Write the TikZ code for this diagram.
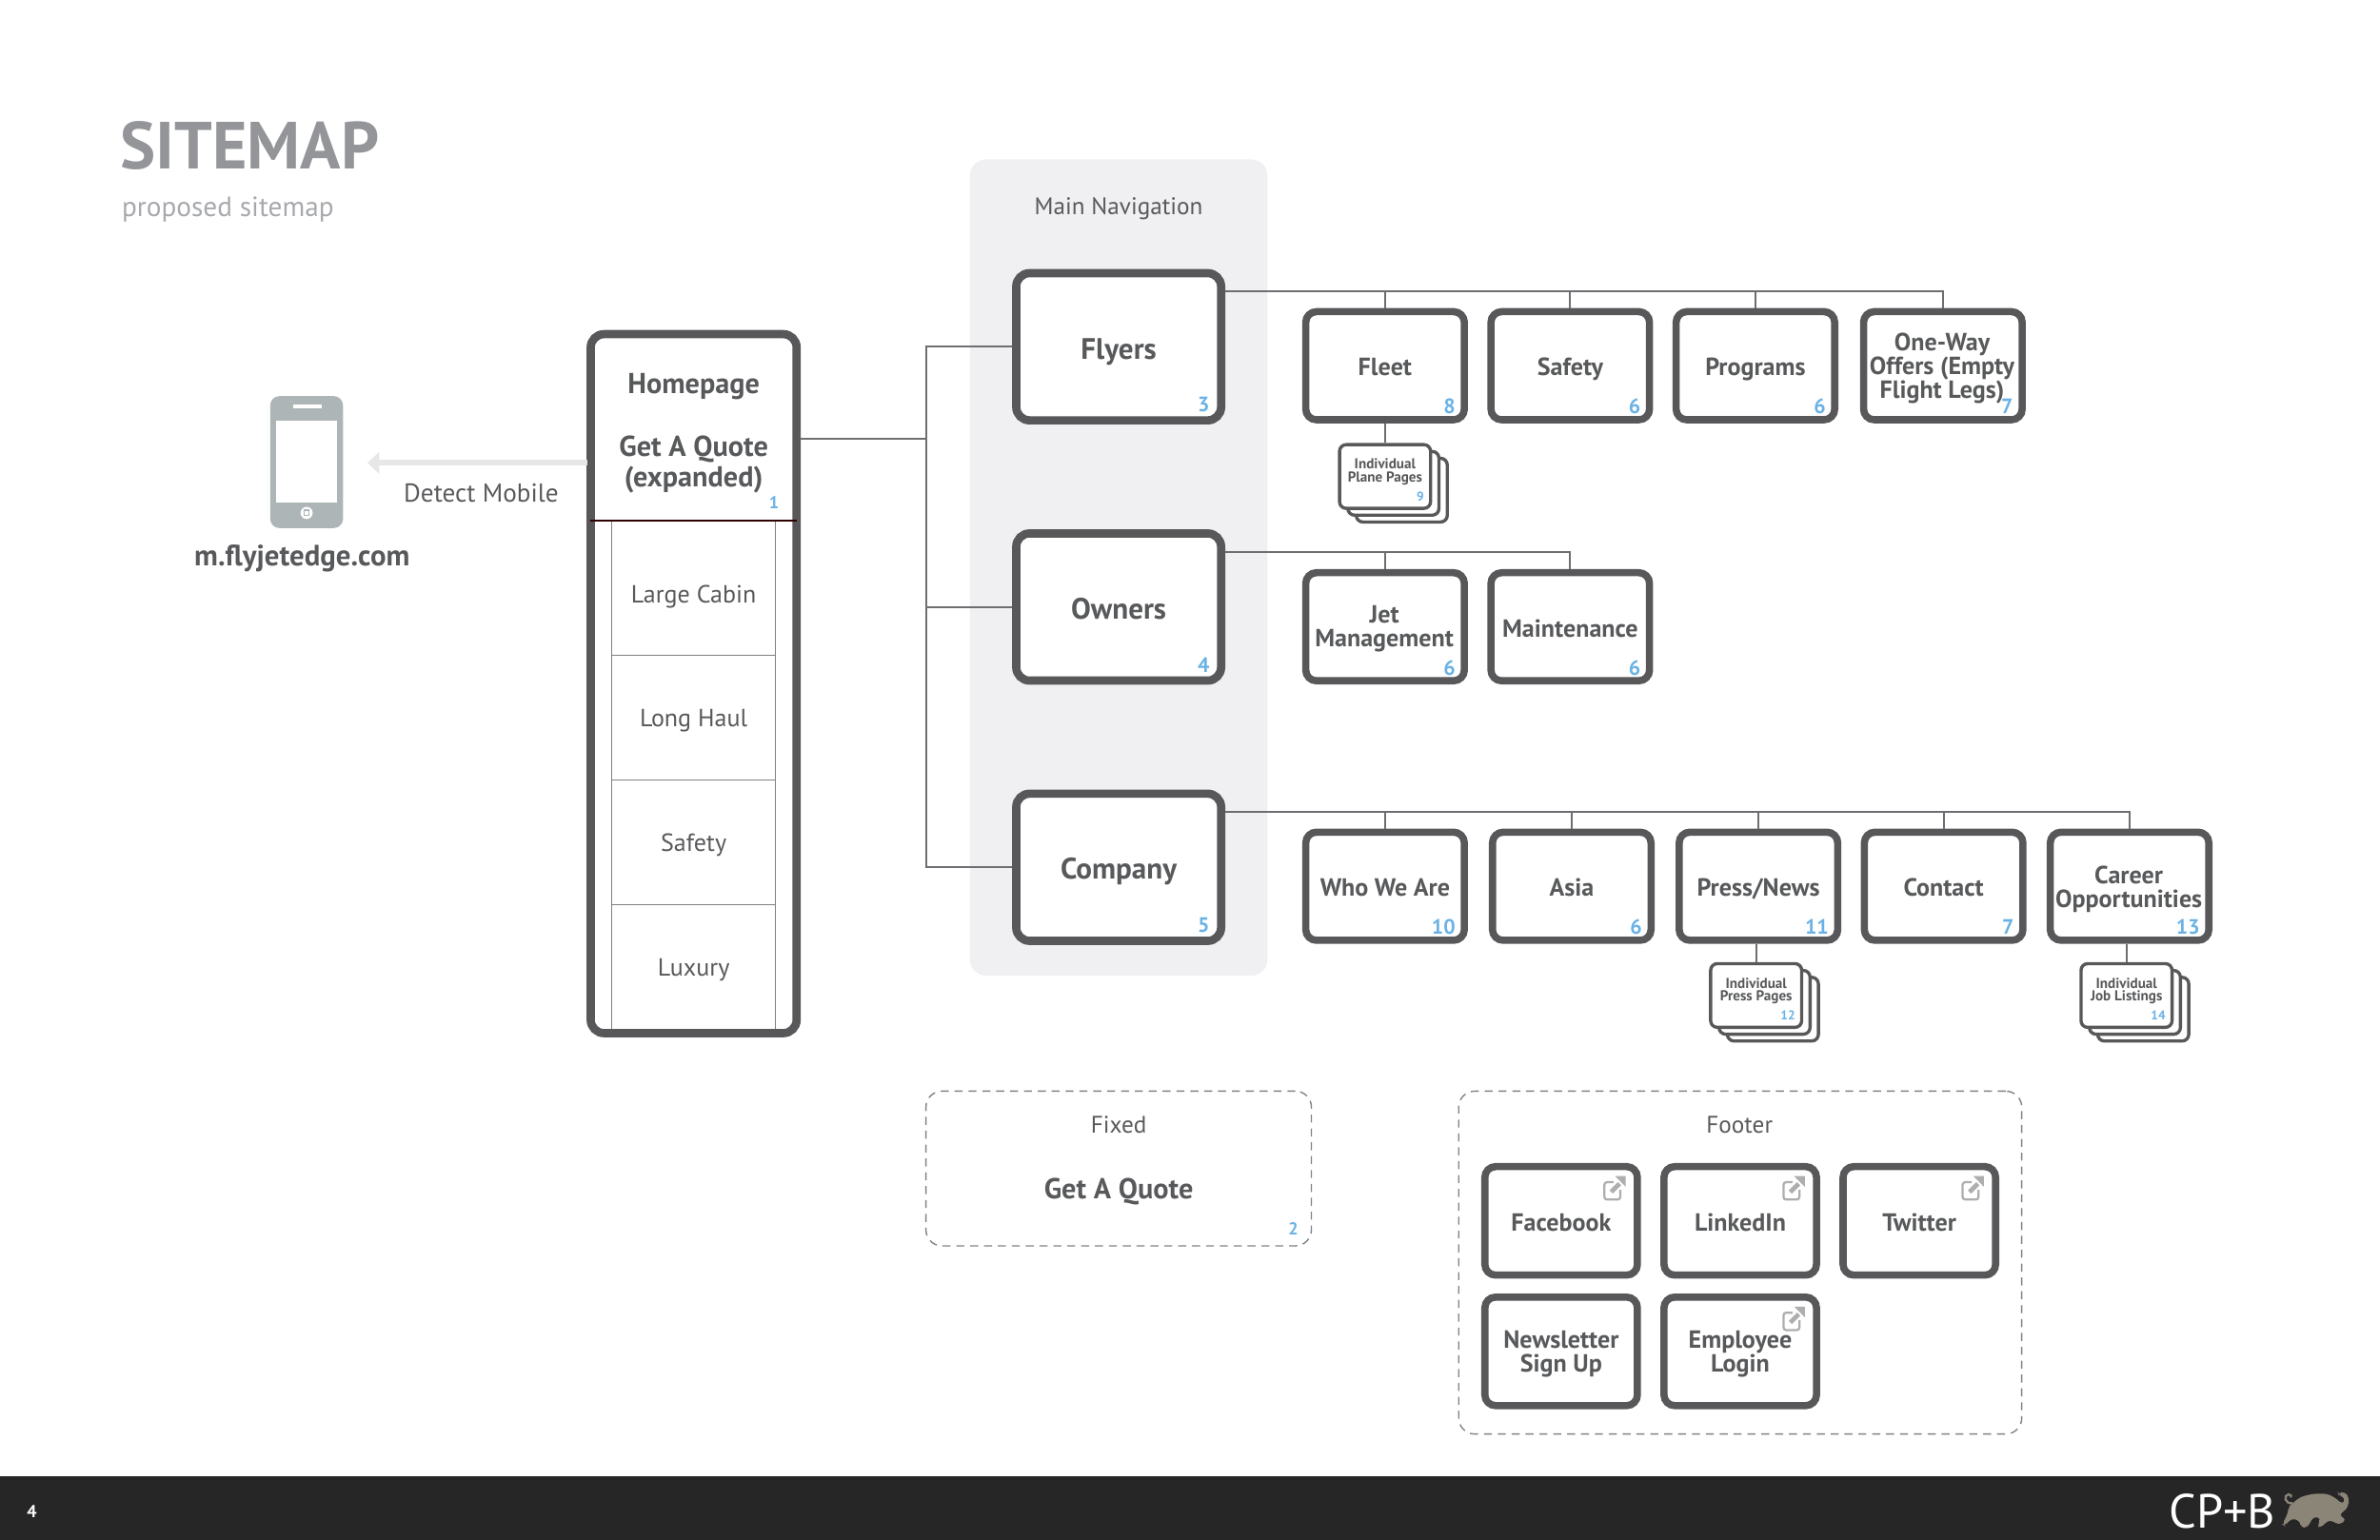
\documentclass[tikz,border=0pt]{standalone}
\usepackage{fontspec}
\setmainfont{PT Sans}
\usetikzlibrary{arrows.meta, positioning}
\definecolor{inkgrey}{HTML}{58595B}
\definecolor{boxgrey}{HTML}{58585A}
\definecolor{linkgrey}{HTML}{6D6E71}
\definecolor{dashgrey}{HTML}{808285}
\definecolor{titlegrey}{HTML}{939598}
\definecolor{subgrey}{HTML}{A7A9AC}
\definecolor{panelgrey}{HTML}{F0F0F2}
\definecolor{numblue}{HTML}{6AB2E6}
\definecolor{phonegrey}{HTML}{ADB5B7}
\definecolor{arrowgrey}{HTML}{E6E7E6}
\definecolor{icongrey}{HTML}{AEAEAE}
\definecolor{barblack}{HTML}{262626}
\definecolor{elephant}{HTML}{8B8578}
\tikzset{
  evenlines/.style={execute at begin node={\rule{0pt}{1.1em}}, execute at end node={\rule[-.28em]{0pt}{.28em}}},
  navbox/.style={evenlines, draw=boxgrey, fill=white, line width=3.1pt, rounded corners=5pt, minimum width=2.7cm, minimum height=1.94cm, inner sep=0pt, align=center, text=inkgrey, font=\fontsize{11.1}{12}\selectfont\bfseries},
  pagebox/.style={evenlines, draw=boxgrey, fill=white, line width=2.7pt, rounded corners=4pt, minimum width=2.09cm, minimum height=1.425cm, inner sep=0pt, align=center, text=inkgrey, font=\fontsize{9.3}{8.9}\selectfont\bfseries},
  footbox/.style={pagebox, minimum width=2.01cm, minimum height=1.43cm},
  boxtext/.style={inner sep=0pt, align=center, text=inkgrey, font=\fontsize{9.3}{8.9}\selectfont\bfseries},
  stackbox/.style={draw=boxgrey, fill=white, line width=1.2pt, rounded corners=2.5pt, minimum width=1.2cm, minimum height=.84cm, inner sep=0pt, align=center, text=inkgrey, font=\fontsize{5.4}{4.9}\selectfont\bfseries},
  stacktext/.style={stackbox, execute at begin node={\rule{0pt}{.8em}}, execute at end node={\rule[-4.5pt]{0pt}{4.5pt}}},
  dashbox/.style={draw=dashgrey, line width=.5pt, dash pattern=on 3pt off 2.2pt, rounded corners=6pt, inner sep=0pt},
  link/.style={draw=linkgrey, line width=.75pt},
  num/.style={text=numblue, font=\fontsize{7.8}{8}\selectfont\bfseries, inner sep=0pt, anchor=east},
  stacknum/.style={text=numblue, font=\fontsize{4.8}{5}\selectfont\bfseries, inner sep=0pt, anchor=east},
  lbl/.style={text=inkgrey, font=\fontsize{9}{10}\selectfont, inner sep=0pt},
  rowlbl/.style={lbl, font=\fontsize{9.3}{10}\selectfont},
  boldlbl/.style={text=inkgrey, font=\fontsize{10.8}{11.6}\selectfont\bfseries, inner sep=0pt, align=center},
  extlink/.pic={
    \draw[icongrey, line width=.8pt, rounded corners=1pt] (-1,-4) -- (-7,-4) -- (-7,7.5) -- (3.5,7.5) -- (3.5,1);
    \draw[icongrey, line width=1.7pt] (-2.5,2.5) -- (3,-3);
    \fill[icongrey] (0,-8) -- (7,-8) -- (7,-1) -- cycle;
  }
}
\begin{document}
\begin{tikzpicture}[x=0.02cm, y=-0.02cm]
  \useasboundingbox (0,0) rectangle (1568,1014.8);

  % ---- Title ---------------------------------------------------------------
  \node[anchor=west, inner sep=0pt, text=titlegrey, font=\fontsize{25}{28}\selectfont\bfseries] (title) at (79,96) {SITEMAP};
  \node[anchor=west, inner sep=0pt, text=subgrey, font=\fontsize{10.45}{12}\selectfont] (subtitle) at (80,138) {proposed sitemap};

  % ---- Main navigation panel -----------------------------------------------
  \node[fill=panelgrey, rounded corners=6pt, minimum width=3.92cm, minimum height=10.76cm, inner sep=0pt] (mainnav) at (737,374) {};
  \node[lbl] (mainnavlbl) at (737,137.5) {Main Navigation};

  % ---- Phone ---------------------------------------------------------------
  \node[fill=phonegrey, rounded corners=3.5pt, minimum width=.96cm, minimum height=1.74cm, inner sep=0pt] (phone) at (202,304.5) {};
  \fill[white] (182,277) rectangle (222,331);
  \fill[white] (193,266.5) rectangle (212,269);
  \fill[white] (202,338) circle (4);
  \draw[phonegrey, line width=.5pt] (200.3,336.3) rectangle (203.7,339.7);
  \node[boldlbl, font=\fontsize{11}{12}\selectfont\bfseries] (mobileurl) at (199,368) {m.flyjetedge.com};
  \node[lbl, font=\fontsize{9.7}{10}\selectfont] (detect) at (317,325) {Detect Mobile};

  % ---- Homepage column -----------------------------------------------------
  \node[draw=none, minimum width=2.7cm, minimum height=9.2cm, inner sep=0pt] (home) at (457,450.5) {};
  \draw[gray, line width=.4pt] (403,343) -- (403,680) (511,343) -- (511,680);
  \foreach \y in {432,514,596}
    \draw[gray, line width=.5pt] (403,\y) -- (511,\y);
  \draw[draw=boxgrey, line width=3.1pt, rounded corners=5pt] (home.north west) rectangle (home.south east);
  \draw[black!70!red!60!black, line width=.9pt] (home.west |- 0,343) -- (home.east |- 0,343);
  \node[boldlbl] (homelbl) at (457,255) {Homepage};
  \node[boldlbl] (quotelbl) at (457,306) {Get A Quote\\(expanded)};
  \node[num, anchor=center, font=\fontsize{6.5}{7}\selectfont\bfseries] (numhome) at (510,331) {1};
  \foreach \n/\t/\y in {cabin/Large Cabin/393, haul/Long Haul/475, safe/Safety/557, luxury/Luxury/639}
    \node[rowlbl] (\n) at (457,\y) {\t};

  % ---- Main navigation boxes -----------------------------------------------
  \node[navbox] (flyers) at (737,228.5) {Flyers};
  \node[navbox] (owners) at (737,400) {Owners};
  \node[navbox] (company) at (737,571.5) {Company};

  % ---- Second level pages --------------------------------------------------
  \node[pagebox] (fleet) at (912.5,241) {Fleet};
  \node[pagebox] (safety) at (1034.5,241) {Safety};
  \node[pagebox] (programs) at (1156.5,241) {Programs};
  \node[pagebox] (oneway) at (1280,241) {};
  \node[pagebox] (jet) at (912.5,413) {};
  \node[pagebox] (maint) at (1034.5,413) {Maintenance};
  \node[pagebox] (who) at (912.5,584) {Who We Are};
  \node[pagebox] (asia) at (1035.5,584) {Asia};
  \node[pagebox] (press) at (1158.5,584) {Press/News};
  \node[pagebox] (contact) at (1280.5,584) {Contact};
  \node[pagebox] (career) at (1403,584) {};
  \node[boxtext] (onewaylbl) at (1279.5,243) {One-Way\\Offers (Empty\\Flight Legs)};
  \node[boxtext] (jetlbl) at (912,414.5) {Jet\\Management};
  \node[boxtext] (careerlbl) at (1402.5,586) {Career\\Opportunities};

  % ---- Stacks of pages (two sheets behind the front one) -------------------
  \foreach \x/\y in {912.5/314, 1157/656, 1401/656} {
    \node[stackbox] at (\x+11,\y+9) {};
    \node[stackbox] at (\x+5.5,\y+4.5) {};
  }
  \node[stacktext] (fleetpages) at (912.5,314) {Individual\\Plane Pages};
  \node[stacktext] (presspages) at (1157,656) {Individual\\Press Pages};
  \node[stacktext] (jobpages) at (1401,656) {Individual\\Job Listings};

  % ---- Connectors ----------------------------------------------------------
  \coordinate (hometap) at (527,289);
  \coordinate (navtrunk) at (610,289);
  \draw[link] (hometap) -- (navtrunk);
  \foreach \b in {flyers, owners, company}
    \draw[link] (navtrunk) |- (\b.west);
  \coordinate (flyersbus) at (807,192);
  \coordinate (ownersbus) at (807,364);
  \coordinate (companybus) at (807,535);
  \foreach \b in {fleet, safety, programs, oneway}
    \draw[link] (flyersbus) -| (\b.north);
  \foreach \b in {jet, maint}
    \draw[link] (ownersbus) -| (\b.north);
  \foreach \b in {who, asia, press, contact, career}
    \draw[link] (companybus) -| (\b.north);
  \draw[link] (fleet.south) -- (fleetpages.north);
  \draw[link] (presspages.north) -- (presspages.north |- press.south);
  \draw[link] (jobpages.north) -- (jobpages.north |- career.south);

  \coordinate (detecttip) at (242,305);
  \coordinate (detecttail) at (387,305);
  \draw[arrowgrey, line width=2pt, -{Triangle[length=4.5pt, width=8pt]}] (detecttail) -- (detecttip);

  % ---- Page numbers --------------------------------------------------------
  \foreach \b/\n in {flyers/3, owners/4, company/5}
    \node[num] (num\b) at ([shift={(-10,-13)}]\b.south east) {\n};
  \foreach \b/\n in {fleet/8, safety/6, programs/6, oneway/7, jet/6, maint/6, who/10, asia/6, press/11, contact/7, career/13}
    \node[num] (num\b) at ([shift={(-8,-11)}]\b.south east) {\n};
  \foreach \b/\n in {fleetpages/9, presspages/12, jobpages/14}
    \node[stacknum] (num\b) at ([shift={(-5,-9)}]\b.south east) {\n};

  % ---- Fixed ---------------------------------------------------------------
  \node[dashbox, minimum width=5.08cm, minimum height=2.04cm] (fixed) at (737,770) {};
  \node[lbl] (fixedlbl) at (737,741) {Fixed};
  \node[boldlbl] (fixedquote) at (737,785) {Get A Quote};
  \node[num, anchor=center, font=\fontsize{6.5}{7}\selectfont\bfseries] (numfixed) at (852,810) {2};

  % ---- Footer --------------------------------------------------------------
  \node[dashbox, minimum width=7.42cm, minimum height=4.52cm] (footer) at (1146.5,832) {};
  \node[lbl] (footerlbl) at (1146,741) {Footer};
  \node[footbox] (facebook) at (1028.5,804.5) {Facebook};
  \node[footbox] (linkedin) at (1146.5,804.5) {LinkedIn};
  \node[footbox] (twitter) at (1264.5,804.5) {Twitter};
  \node[footbox] (newsletter) at (1028.5,890.5) {};
  \node[footbox] (employee) at (1146.5,890.5) {};
  \node[boxtext] (newsletterlbl) at (1028.5,892) {Newsletter\\Sign Up};
  \node[boxtext] (employeelbl) at (1146.5,892) {Employee\\Login};
  \foreach \x/\y in {1064/783, 1182/783, 1300/783, 1182/869}
    \pic at (\x,\y) {extlink};

  % ---- Bottom bar ----------------------------------------------------------
  \fill[barblack] (0,973) rectangle (1568,1014.8);
  \node[text=white, inner sep=0pt, font=\fontsize{6.5}{7}\selectfont\bfseries] (pageno) at (21,996) {4};
  \node[text=white, inner sep=0pt, font=\fontsize{18}{19}\selectfont] (cpb) at (1464,996) {CP+B};
  \begin{scope}[shift={(1379.8,965.9)}, x=0.00418cm, y=-0.00418cm]
    \fill[elephant, rounded corners=1.5pt] (622,120) -- (650,98) -- (690,88) -- (735,88) -- (765,105) -- (782,122) -- (790,110) -- (786,97) -- (770,92) -- (768,85) -- (790,82) -- (803,100) -- (800,130) -- (785,145) -- (770,155) -- (795,170) -- (770,187) -- (745,170) -- (730,178) -- (710,198) -- (703,185) -- (715,165) -- (690,160) -- (672,195) -- (650,195) -- (650,175) -- (622,165) -- (600,190) -- (592,185) -- (610,150) -- (612,130) -- cycle;
    \draw[elephant, line width=.8pt] (625,118) .. controls (600,122) and (595,92) .. (612,90) .. controls (620,90) and (622,96) .. (620,100);
  \end{scope}

\end{tikzpicture}
\end{document}
